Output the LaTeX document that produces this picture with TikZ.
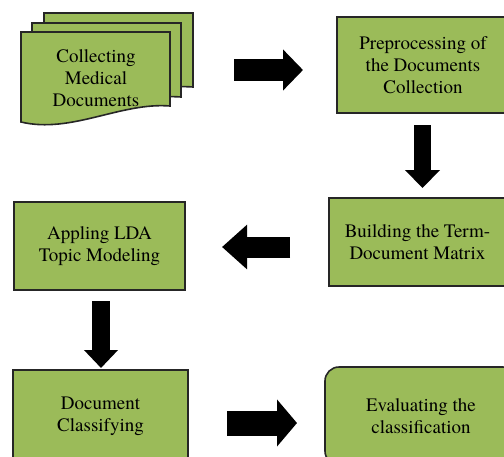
\documentclass[tikz,border=0pt]{standalone}
\usepackage{fontspec}
\setmainfont{texgyretermes-regular.otf}
\newfontfamily\boxfont{texgyretermes-regular.otf}
\usepackage{xcolor}
\usetikzlibrary{arrows.meta}
\definecolor{stepgreen}{HTML}{9BBB59}
\definecolor{edgegray}{HTML}{262626}
\tikzset{
  boxtext/.style={align=center, inner sep=0pt, font=\boxfont\fontsize{19}{22}\selectfont},
  box/.style={boxtext, draw=edgegray, line width=1.6pt, fill=stepgreen},
  page/.style={draw=edgegray, line width=1.6pt, fill=stepgreen},
  bigarrow/.style n args={3}{line width=#1, -{Triangle[length=#2,width=#3]}}
}
\begin{document}
\begin{tikzpicture}[x=1pt,y=-1pt]
\useasboundingbox (0,0) rectangle (504,456);
\foreach \px/\py in {44/13, 32/23, 21/32}
  \draw[page] (\px,\py) -- ++(149,0) -- ++(0,74)
    .. controls ++(-49,-4) and ++(50,12) .. ++(-149,16) -- cycle;
\node[boxtext] (collect) at (96,78)
  {Collecting\\Medical\\Documents};
\node[box, minimum width=172pt, minimum height=96pt] (prep) at (423,65)
  {Preprocessing of\\the Documents\\Collection};
\node[box, minimum width=177pt, minimum height=88pt] (build) at (417.5,242)
  {Building the Term-\\Document Matrix};
\node[box, minimum width=171pt, minimum height=88pt] (lda) at (99.5,246)
  {Appling LDA\\Topic Modeling};
\node[box, minimum width=175pt, minimum height=92pt] (classify) at (100.5,416)
  {Document\\Classifying};
\node[box, rounded corners=14pt, minimum width=192pt, minimum height=98pt] (eval) at (421,416)
  {Evaluating the\\classification};
\coordinate (a1s) at (234,70);  \coordinate (a1e) at (303,70);
\coordinate (a2s) at (422.5,125); \coordinate (a2e) at (422.5,188);
\coordinate (a3s) at (290,247); \coordinate (a3e) at (222,247);
\coordinate (a4s) at (101,301); \coordinate (a4e) at (101,368);
\coordinate (a5s) at (227,423); \coordinate (a5e) at (297,423);
\draw[bigarrow={22pt}{20pt}{40pt}] (a1s) -- (a1e);
\draw[bigarrow={17pt}{18pt}{34pt}] (a2s) -- (a2e);
\draw[bigarrow={21pt}{25pt}{43pt}] (a3s) -- (a3e);
\draw[bigarrow={18pt}{18pt}{33pt}] (a4s) -- (a4e);
\draw[bigarrow={25pt}{20pt}{46pt}] (a5s) -- (a5e);
\end{tikzpicture}
\end{document}
